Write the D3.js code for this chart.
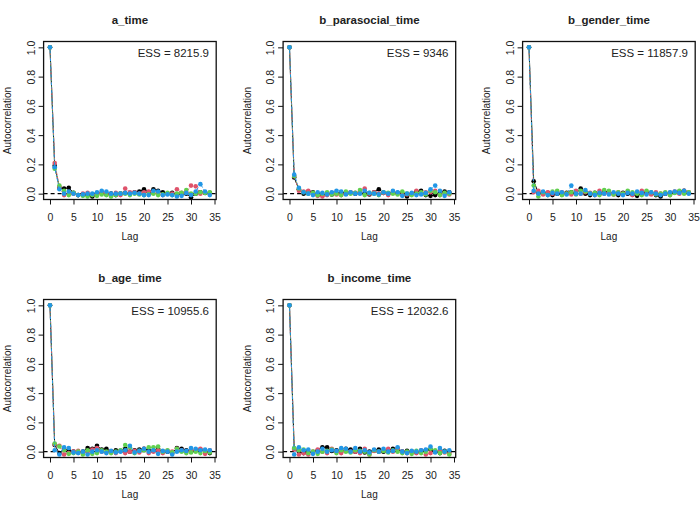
<!DOCTYPE html>
<html>
<head>
<meta charset="utf-8">
<script src="https://cdn.jsdelivr.net/npm/d3@7"></script>
<style>
  html, body { margin: 0; padding: 0; background: #fff; }
  svg { display: block; }
  text { font-family: "Liberation Sans", Arial, sans-serif; fill: #222; }
</style>
</head>
<body>
<svg id="chart" width="700" height="511"></svg>
<script>
// ---------------- data ----------------
const lags = [0,1,2,3,4,5,6,7,8,9,10,11,12,13,14,15,16,17,18,19,20,21,22,23,24,25,26,27,28,29,30,31,32,33,34];
const xTicks = [0,5,10,15,20,25,30,35];
const yTicks = [0.0,0.2,0.4,0.6,0.8,1.0];
const yTickLabels = ["0.0","0.2","0.4","0.6","0.8","1.0"];
const titles = ["a_time","b_parasocial_time","b_gender_time","b_age_time","b_income_time"];
const essValues = ["8215.9","9346","11857.9","10955.6","12032.6"];
const chainColors = ["#000000","#DF536B","#61D04F","#2297E6"];

const a_time = [
  [1,0.19,0.04,0.035,0.04,0.005,-0.01,-0.005,-0.01,-0.02,0.0,0.005,-0.005,0.0,-0.01,0.0,0.005,0.0,0.01,0.015,0.03,0.01,0.03,0.02,0.01,0.0,0.005,-0.005,0.0,0.0,-0.025,0.0,0.01,0.005,0.005],
  [1,0.21,0.045,-0.01,0.0,0.0,-0.01,0.0,0.005,-0.005,-0.01,0.01,0.0,-0.005,0.005,-0.01,0.035,0.01,0.01,0.0,0.01,0.015,0.005,0.0,-0.01,0.0,0.0,0.03,0.005,0.01,0.055,0.05,0.0,0.01,0.0],
  [1,0.17,0.055,0.02,-0.01,0.005,-0.01,-0.015,-0.02,-0.01,-0.015,-0.005,-0.01,-0.02,-0.01,0.0,0.0,-0.01,0.0,-0.005,-0.01,-0.005,0.0,-0.01,-0.005,0.005,-0.01,0.0,0.005,0.025,0.0,0.0,0.01,0.005,0.01],
  [1,0.18,0.03,0.0,0.015,0.0,-0.01,-0.005,0.0,0.0,0.01,0.02,0.015,0.0,0.0,0.0,0.005,0.0,0.005,0.0,-0.01,-0.01,0.02,0.015,-0.01,-0.005,-0.01,-0.02,-0.015,0.005,-0.01,0.015,0.065,0.015,-0.01]
];
const b_parasocial_time = [
  [1,0.11,0.03,0.0,0.015,0.01,-0.01,-0.01,0.0,-0.005,0.0,0.01,0.0,0.005,0.0,0.005,0.0,-0.005,0.01,0.03,0.005,0.0,0.01,0.005,0.0,-0.02,0.0,0.015,0.02,-0.01,-0.015,-0.01,0.005,0.015,0.01],
  [1,0.12,0.02,0.015,0.02,0.0,-0.015,-0.02,-0.01,0.005,-0.005,-0.01,0.0,0.01,0.005,0.015,0.035,0.0,0.01,0.0,0.005,-0.01,0.01,0.0,-0.01,-0.005,0.0,0.02,0.005,0.01,0.01,0.02,-0.01,0.0,-0.005],
  [1,0.12,0.035,0.01,0.0,0.005,-0.01,0.0,0.01,-0.005,0.0,-0.01,0.015,0.0,0.005,0.025,-0.01,0.005,0.0,-0.01,0.01,0.005,0.0,-0.005,0.015,0.0,-0.01,0.0,0.01,-0.005,0.02,0.01,-0.01,0.005,0.0],
  [1,0.13,0.04,0.01,0.0,-0.01,0.01,0.005,-0.005,0.01,0.02,0.015,-0.005,0.01,0.0,0.0,0.02,0.005,0.0,-0.005,0.01,0.0,0.02,0.01,-0.015,0.0,0.005,-0.01,-0.005,0.005,0.03,0.055,0.02,-0.015,0.01]
];
const b_gender_time = [
  [1,0.085,0.005,0.01,0.005,-0.01,0.0,-0.005,0.005,0.01,0.0,0.035,0.0,-0.01,0.005,0.0,0.015,0.01,0.0,-0.01,0.005,0.0,-0.005,-0.015,0.0,0.01,0.0,-0.01,-0.02,0.0,0.005,0.01,0.015,0.02,0.005],
  [1,0.01,0.02,-0.005,0.01,0.0,0.015,0.01,0.0,-0.005,0.02,0.0,0.01,0.005,-0.01,0.02,0.0,0.01,-0.005,0.01,0.0,0.015,-0.01,0.005,0.02,0.0,-0.005,0.01,0.0,0.005,-0.01,0.015,0.0,0.02,0.01],
  [1,0.055,-0.02,0.01,-0.01,0.015,0.02,-0.01,0.0,0.01,-0.005,0.02,0.015,0.0,0.005,-0.01,0.025,0.02,-0.005,0.01,0.0,0.02,0.01,0.0,-0.01,0.02,0.01,-0.005,0.0,0.01,-0.01,0.005,0.02,0.0,0.01],
  [1,0.02,0.0,0.015,-0.01,0.005,0.0,0.01,-0.005,0.055,0.0,0.0,0.025,0.0,-0.01,0.005,0.0,-0.005,0.01,0.0,-0.01,0.005,0.0,0.015,0.005,-0.005,0.01,0.0,-0.01,0.0,0.01,0.015,0.005,0.02,0.0]
];
const b_age_time = [
  [1,0.045,-0.01,0.02,0.005,0.0,-0.005,0.0,0.025,0.02,0.04,0.015,0.02,0.0,0.01,0.005,0.02,0.0,0.01,0.015,0.02,0.01,0.005,0.02,0.0,0.0,-0.01,0.025,0.02,0.01,0.0,0.01,0.015,0.0,-0.01],
  [1,0.05,0.04,-0.02,-0.01,0.0,0.005,-0.01,0.0,0.015,0.025,0.0,-0.005,0.0,-0.01,0.005,-0.01,0.0,0.005,-0.005,0.02,-0.01,0.0,0.01,-0.01,0.005,0.0,0.02,0.01,0.0,0.005,0.01,0.02,-0.015,0.01],
  [1,0.055,0.035,0.01,-0.015,-0.01,0.0,-0.02,0.01,-0.015,-0.01,0.01,0.0,-0.01,0.0,0.01,0.045,0.03,-0.01,0.005,0.01,0.03,0.03,0.035,0.0,0.01,-0.005,0.02,0.0,-0.01,-0.005,0.0,-0.01,0.005,-0.005],
  [1,0.01,-0.02,0.03,0.025,-0.005,-0.01,0.0,-0.02,0.0,0.01,0.0,-0.01,0.005,-0.005,0.0,0.01,0.04,-0.005,0.005,0.02,0.0,0.01,-0.015,0.005,0.0,-0.02,0.0,0.01,0.005,0.025,0.02,0.01,0.015,0.01]
];
const b_income_time = [
  [1,0.02,0.0,-0.01,0.0,-0.005,0.01,0.03,0.03,0.005,0.01,0.0,0.02,0.015,0.0,0.02,-0.005,0.0,0.01,0.015,0.0,0.01,0.02,0.015,0.0,0.005,0.0,-0.005,0.0,0.01,0.015,0.0,-0.01,0.005,0.0],
  [1,0.015,-0.02,-0.01,-0.02,0.0,0.015,0.0,-0.01,0.02,0.0,-0.01,0.01,0.0,0.0,-0.01,0.02,-0.02,0.005,0.0,0.01,0.02,0.0,0.025,0.0,-0.01,0.0,-0.01,0.01,-0.02,-0.01,0.0,0.01,-0.005,-0.015],
  [1,0.025,0.01,0.015,-0.01,0.0,-0.015,0.0,0.005,0.015,-0.01,0.01,0.0,-0.005,0.01,0.005,0.0,-0.02,0.01,0.0,0.005,-0.005,0.01,0.0,-0.01,0.0,-0.015,0.005,-0.01,0.0,0.02,0.01,-0.01,0.0,-0.02],
  [1,-0.02,0.03,0.01,0.015,-0.015,0.0,0.02,0.0,0.01,0.005,0.025,0.02,0.0,0.025,0.0,0.01,-0.005,0.015,0.0,0.02,0.0,0.005,0.03,0.0,-0.01,0.005,0.0,0.01,0.015,0.035,-0.005,0.025,0.0,0.01]
];
const panelSeries = [a_time, b_parasocial_time, b_gender_time, b_age_time, b_income_time];

// ---------------- layout / styles ----------------
const dashes = [null, "3,2", "1,2", "1,2,3,2"];
const colStep = 239.5, rowStep = 258;
const svg = d3.select("#chart");
svg.append("rect").attr("width",700).attr("height",511).attr("fill","#fff");

const x = d3.scaleLinear().domain([-1.36, 35.36]).range([43.6, 216.2]);
const y = d3.scaleLinear().domain([-0.04, 1.04]).range([199.5, 41.5]);

panelSeries.forEach((series, i) => {
  const col = i % 3, row = Math.floor(i / 3);
  const g = svg.append("g").attr("transform", `translate(${col*colStep},${row*rowStep})`);
  const clipId = "clip" + i;
  g.append("clipPath").attr("id", clipId)
    .append("rect").attr("x", x.range()[0]).attr("y", y.range()[1])
    .attr("width", x.range()[1]-x.range()[0]).attr("height", y.range()[0]-y.range()[1]);

  const plot = g.append("g").attr("clip-path", `url(#${clipId})`);

  // zero reference line
  plot.append("line")
    .attr("x1", x.range()[0]).attr("x2", x.range()[1])
    .attr("y1", y(0)).attr("y2", y(0))
    .attr("stroke", "#000").attr("stroke-width", 1.2).attr("stroke-dasharray", "4,3");

  const line = d3.line().x((d, k) => x(lags[k])).y(d => y(d));
  series.forEach((vals, c) => {
    plot.append("path").datum(vals)
      .attr("d", line).attr("fill", "none")
      .attr("stroke", chainColors[c]).attr("stroke-width", 1)
      .attr("stroke-dasharray", dashes[c]);
    plot.selectAll(null).data(vals).enter().append("circle")
      .attr("cx", (d, k) => x(lags[k])).attr("cy", d => y(d))
      .attr("r", 2.3).attr("fill", chainColors[c]);
  });

  // box
  g.append("rect")
    .attr("x", x.range()[0]).attr("y", y.range()[1])
    .attr("width", x.range()[1]-x.range()[0]).attr("height", y.range()[0]-y.range()[1])
    .attr("fill", "none").attr("stroke", "#111").attr("stroke-width", 1.3);

  // x axis
  const xa = g.append("g").attr("transform", `translate(0,${y.range()[0]})`)
    .call(d3.axisBottom(x).tickValues(xTicks).tickSize(5).tickPadding(9).tickFormat(d3.format("d")));
  xa.select(".domain").remove();
  xa.selectAll("line").attr("stroke", "#111");
  xa.selectAll("text").attr("font-size", "10.5px").attr("fill", "#333")
    .style("font-family", '"Liberation Sans", Arial, sans-serif');

  // y axis
  const ya = g.append("g").attr("transform", `translate(${x.range()[0]},0)`)
    .call(d3.axisLeft(y).tickValues(yTicks).tickSize(5).tickFormat((d, k) => yTickLabels[k]));
  ya.select(".domain").remove();
  ya.selectAll("line").attr("stroke", "#111");
  ya.selectAll("text")
    .attr("x", 0).attr("y", 0).attr("dy", 0)
    .attr("transform", "translate(-9,0) rotate(-90)")
    .attr("text-anchor", "middle")
    .attr("font-size", "10.5px").attr("fill", "#333")
    .style("font-family", '"Liberation Sans", Arial, sans-serif');

  const cx = (x.range()[0] + x.range()[1]) / 2;
  // title
  g.append("text").attr("x", cx).attr("y", 23.5).attr("text-anchor", "middle")
    .attr("font-size", "11.5px").attr("font-weight", "bold").attr("fill", "#111").text(titles[i]);
  // axis labels
  g.append("text").attr("x", cx).attr("y", 240).attr("text-anchor", "middle")
    .attr("font-size", "10px").attr("fill", "#333").text("Lag");
  g.append("text").attr("transform", `translate(11,${(y.range()[0]+y.range()[1])/2}) rotate(-90)`)
    .attr("text-anchor", "middle").attr("font-size", "10px").attr("fill", "#333").text("Autocorrelation");
  // ESS annotation
  g.append("text").attr("x", 209).attr("y", 57).attr("text-anchor", "end")
    .attr("font-size", "11.5px").attr("fill", "#111").text("ESS = " + essValues[i]);
});
</script>
</body>
</html>
